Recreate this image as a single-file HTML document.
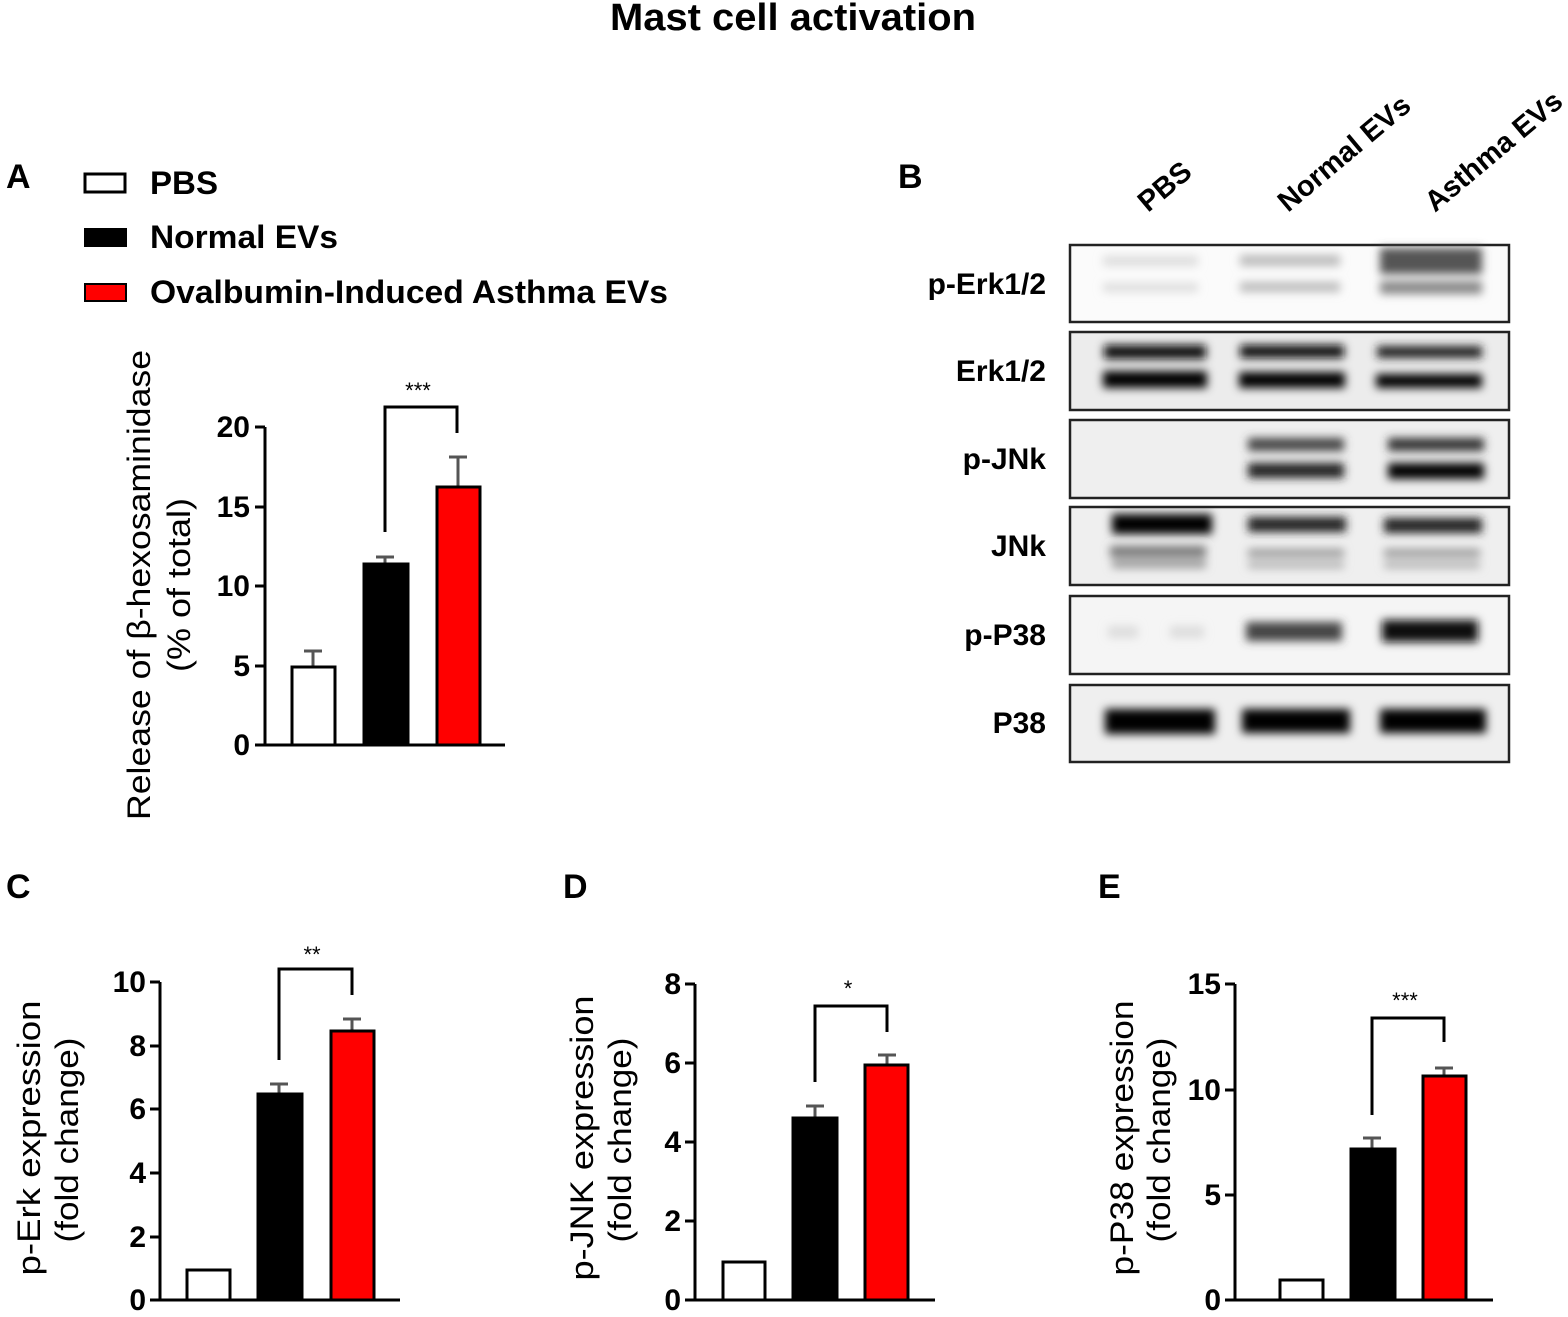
<!DOCTYPE html>
<html><head><meta charset="utf-8"><style>
html,body{margin:0;padding:0;background:#fff}
svg{display:block}
text{font-family:"Liberation Sans",Arial,sans-serif;fill:#000}
</style></head><body>
<svg width="1568" height="1317" viewBox="0 0 1568 1317" xmlns="http://www.w3.org/2000/svg">
<defs>
<filter id="b" x="-20%" y="-150%" width="140%" height="400%"><feGaussianBlur stdDeviation="4.5"/></filter>
</defs>
<text x="793" y="30" font-size="38" font-weight="bold" text-anchor="middle" textLength="366" lengthAdjust="spacingAndGlyphs">Mast cell activation</text>

<!-- Panel A -->
<text x="6" y="188" font-size="34" font-weight="bold">A</text>
<rect x="85" y="174" width="40" height="18" fill="#fff" stroke="#000" stroke-width="3"/>
<rect x="84" y="228" width="43" height="19" fill="#000"/>
<rect x="85" y="284" width="41" height="17" fill="#f00" stroke="#000" stroke-width="2"/>
<g font-size="32" font-weight="bold">
<text x="150" y="194" textLength="68" lengthAdjust="spacingAndGlyphs">PBS</text>
<text x="150" y="248" textLength="188" lengthAdjust="spacingAndGlyphs">Normal EVs</text>
<text x="150" y="303" textLength="518" lengthAdjust="spacingAndGlyphs">Ovalbumin-Induced Asthma EVs</text>
</g>

<g stroke="#000" stroke-width="3" fill="none">
<path d="M265 427 V745 H505"/>
<path d="M255 427H265M255 507H265M255 586H265M255 666H265M255 745H265"/>
</g>
<g font-size="30" font-weight="bold" text-anchor="end">
<text x="250" y="437">20</text><text x="250" y="517">15</text><text x="250" y="596">10</text><text x="250" y="676">5</text><text x="250" y="755">0</text>
</g>
<g stroke="#000" stroke-width="3">
<path d="M313 666V651M304 651H322" fill="none" stroke="#555"/>
<rect x="292" y="667" width="43" height="78" fill="#fff"/>
<path d="M385 564V557M376 557H394" fill="none" stroke="#555"/>
<rect x="364" y="564" width="44" height="181" fill="#000"/>
<path d="M458 486V457M449 457H467" fill="none" stroke="#555"/>
<rect x="437" y="487" width="43" height="258" fill="#f00"/>
<path d="M385 532V407H457V433" fill="none"/>
</g>
<text x="418" y="398" font-size="22" text-anchor="middle">***</text>
<text transform="translate(150,585) rotate(-90)" font-size="32" text-anchor="middle" textLength="470" lengthAdjust="spacingAndGlyphs">Release of β-hexosaminidase</text>
<text transform="translate(190,585) rotate(-90)" font-size="32" text-anchor="middle" textLength="174" lengthAdjust="spacingAndGlyphs">(% of total)</text>

<!-- Panel B -->
<text x="898" y="188" font-size="34" font-weight="bold">B</text>
<g font-size="29" font-weight="bold">
<text transform="translate(1148,213) rotate(-40)">PBS</text>
<text transform="translate(1288,213) rotate(-40)">Normal EVs</text>
<text transform="translate(1435,213) rotate(-40)">Asthma EVs</text>
</g>
<g font-size="30" font-weight="bold" text-anchor="end">
<text x="1046" y="294">p-Erk1/2</text>
<text x="1046" y="381">Erk1/2</text>
<text x="1046" y="469">p-JNk</text>
<text x="1046" y="556">JNk</text>
<text x="1046" y="645">p-P38</text>
<text x="1046" y="733">P38</text>
</g>
<g stroke="#222" stroke-width="2.5">
<rect x="1070" y="245" width="439" height="77" fill="#fbfbfb"/>
<rect x="1070" y="332" width="439" height="78" fill="#ececec"/>
<rect x="1070" y="420" width="439" height="78" fill="#efefef"/>
<rect x="1070" y="507" width="439" height="78" fill="#efefef"/>
<rect x="1070" y="596" width="439" height="78" fill="#f5f5f5"/>
<rect x="1070" y="685" width="439" height="77" fill="#efefef"/>
</g>
<g filter="url(#b)">
<rect x="1103" y="256" width="95" height="10" fill="#ddd"/>
<rect x="1103" y="283" width="95" height="9" fill="#ddd"/>
<rect x="1240" y="255" width="100" height="11" fill="#bbb"/>
<rect x="1240" y="282" width="100" height="10" fill="#bbb"/>
<rect x="1380" y="248" width="102" height="26" fill="#555"/>
<rect x="1380" y="281" width="102" height="13" fill="#888"/>
<rect x="1104" y="345" width="102" height="14" fill="#111"/>
<rect x="1103" y="371" width="104" height="17" fill="#000"/>
<rect x="1240" y="345" width="104" height="13" fill="#111"/>
<rect x="1239" y="372" width="106" height="16" fill="#000"/>
<rect x="1377" y="346" width="105" height="12" fill="#222"/>
<rect x="1376" y="374" width="106" height="14" fill="#000"/>
<rect x="1248" y="438" width="96" height="13" fill="#444"/>
<rect x="1248" y="463" width="96" height="15" fill="#222"/>
<rect x="1388" y="438" width="96" height="13" fill="#333"/>
<rect x="1388" y="463" width="96" height="16" fill="#000"/>
<rect x="1112" y="514" width="100" height="20" fill="#000"/>
<rect x="1110" y="546" width="96" height="11" fill="#777"/>
<rect x="1112" y="560" width="94" height="8" fill="#999"/>
<rect x="1248" y="517" width="98" height="15" fill="#222"/>
<rect x="1248" y="549" width="96" height="8" fill="#999"/>
<rect x="1248" y="562" width="96" height="6" fill="#aaa"/>
<rect x="1384" y="518" width="98" height="15" fill="#222"/>
<rect x="1384" y="549" width="96" height="8" fill="#999"/>
<rect x="1384" y="562" width="96" height="6" fill="#aaa"/>
<rect x="1108" y="626" width="30" height="12" fill="#ddd"/>
<rect x="1170" y="626" width="34" height="12" fill="#ddd"/>
<rect x="1246" y="622" width="96" height="19" fill="#444"/>
<rect x="1382" y="620" width="96" height="22" fill="#111"/>
<rect x="1105" y="709" width="110" height="25" fill="#000"/>
<rect x="1242" y="709" width="108" height="24" fill="#000"/>
<rect x="1380" y="709" width="106" height="24" fill="#000"/>
</g>

<!-- Panel C -->
<text x="6" y="898" font-size="34" font-weight="bold">C</text>
<g stroke="#000" stroke-width="3" fill="none">
<path d="M160 982V1300H400"/>
<path d="M150 982H160M150 1046H160M150 1109H160M150 1173H160M150 1237H160M150 1300H160"/>
</g>
<g font-size="30" font-weight="bold" text-anchor="end">
<text x="146" y="992">10</text><text x="146" y="1056">8</text><text x="146" y="1119">6</text><text x="146" y="1183">4</text><text x="146" y="1247">2</text><text x="146" y="1310">0</text>
</g>
<g stroke="#000" stroke-width="3">
<rect x="187" y="1270" width="43" height="30" fill="#fff"/>
<path d="M279 1093V1084M270 1084H288" fill="none" stroke="#555"/>
<rect x="258" y="1094" width="44" height="206" fill="#000"/>
<path d="M352 1030V1019M343 1019H361" fill="none" stroke="#555"/>
<rect x="331" y="1031" width="43" height="269" fill="#f00"/>
<path d="M279 1060V969H352V995" fill="none"/>
</g>
<text x="312" y="962" font-size="22" text-anchor="middle">**</text>
<text transform="translate(40,1138) rotate(-90)" font-size="32" text-anchor="middle" textLength="275" lengthAdjust="spacingAndGlyphs">p-Erk expression</text>
<text transform="translate(78,1140) rotate(-90)" font-size="32" text-anchor="middle" textLength="205" lengthAdjust="spacingAndGlyphs">(fold change)</text>

<!-- Panel D -->
<text x="563" y="898" font-size="34" font-weight="bold">D</text>
<g stroke="#000" stroke-width="3" fill="none">
<path d="M695 984V1300H935"/>
<path d="M685 984H695M685 1063H695M685 1142H695M685 1221H695M685 1300H695"/>
</g>
<g font-size="30" font-weight="bold" text-anchor="end">
<text x="681" y="994">8</text><text x="681" y="1073">6</text><text x="681" y="1152">4</text><text x="681" y="1231">2</text><text x="681" y="1310">0</text>
</g>
<g stroke="#000" stroke-width="3">
<rect x="723" y="1262" width="42" height="38" fill="#fff"/>
<path d="M815 1118V1106M806 1106H824" fill="none" stroke="#555"/>
<rect x="793" y="1118" width="44" height="182" fill="#000"/>
<path d="M887 1065V1055M878 1055H896" fill="none" stroke="#555"/>
<rect x="865" y="1065" width="43" height="235" fill="#f00"/>
<path d="M815 1082V1006H887V1032" fill="none"/>
</g>
<text x="848" y="996" font-size="22" text-anchor="middle">*</text>
<text transform="translate(593,1138) rotate(-90)" font-size="32" text-anchor="middle" textLength="285" lengthAdjust="spacingAndGlyphs">p-JNK expression</text>
<text transform="translate(631,1140) rotate(-90)" font-size="32" text-anchor="middle" textLength="205" lengthAdjust="spacingAndGlyphs">(fold change)</text>

<!-- Panel E -->
<text x="1098" y="898" font-size="34" font-weight="bold">E</text>
<g stroke="#000" stroke-width="3" fill="none">
<path d="M1235 984V1300H1493"/>
<path d="M1225 984H1235M1225 1090H1235M1225 1195H1235M1225 1300H1235"/>
</g>
<g font-size="30" font-weight="bold" text-anchor="end">
<text x="1221" y="994">15</text><text x="1221" y="1100">10</text><text x="1221" y="1205">5</text><text x="1221" y="1310">0</text>
</g>
<g stroke="#000" stroke-width="3">
<rect x="1280" y="1280" width="43" height="20" fill="#fff"/>
<path d="M1372 1148V1138M1363 1138H1381" fill="none" stroke="#555"/>
<rect x="1351" y="1149" width="44" height="151" fill="#000"/>
<path d="M1444 1075V1068M1435 1068H1453" fill="none" stroke="#555"/>
<rect x="1423" y="1076" width="43" height="224" fill="#f00"/>
<path d="M1372 1115V1018H1444V1042" fill="none"/>
</g>
<text x="1405" y="1008" font-size="22" text-anchor="middle">***</text>
<text transform="translate(1133,1138) rotate(-90)" font-size="32" text-anchor="middle" textLength="275" lengthAdjust="spacingAndGlyphs">p-P38 expression</text>
<text transform="translate(1170,1140) rotate(-90)" font-size="32" text-anchor="middle" textLength="205" lengthAdjust="spacingAndGlyphs">(fold change)</text>
</svg>
</body></html>
